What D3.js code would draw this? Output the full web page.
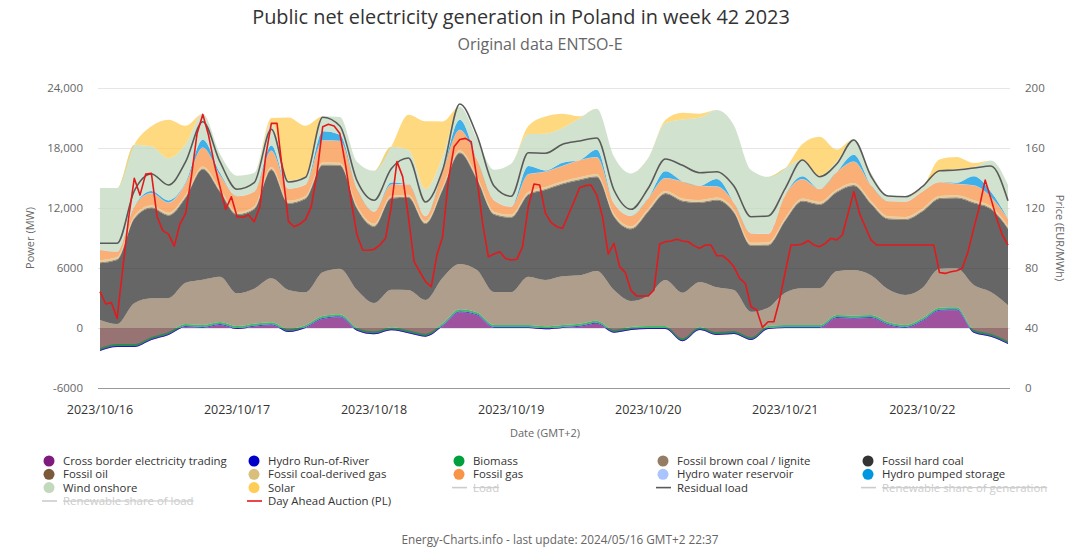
<!DOCTYPE html>
<html><head><meta charset="utf-8">
<script src="https://cdn.jsdelivr.net/npm/d3@7"></script>
<style>body{margin:0;background:#fff;} text{font-family:"Open Sans",sans-serif;}</style>
</head><body><svg id="c" width="1080" height="548"></svg>
<script>
// ---- data (hour offsets from 2023/10/16 00:00 GMT+2) ----
const areaHours = d3.range(0, 160, 3);
const priceHours = d3.range(0, 160, 1);
const crossBorder = [-2300,-1900,-1900,-1200,-700,100,0,300,-100,130,270,-400,0,900,
 1070,-270,-630,-230,-530,-870,170,1570,1270,0,0,0,-130,
 0,130,430,-470,-200,-100,-100,-1330,-200,-700,-600,-1200,-100,
 0,0,0,1000,930,1000,300,0,670,1730,1770,-470,-870,-1600];
const hydroRoR = [100,100,100,100,100,100,100,100,100,100,100,100,100,100,
 100,100,100,100,100,100,100,100,100,100,100,100,100,
 100,100,100,100,100,100,100,100,100,100,100,100,100,
 100,100,100,100,100,100,100,100,100,100,100,100,100,100];
const biomass = [200,200,200,200,200,200,200,200,200,200,200,200,200,200,
 200,200,200,200,200,200,200,200,200,200,200,200,200,
 200,200,200,200,200,200,200,200,200,200,200,200,200,
 200,200,200,200,200,200,200,200,200,200,200,200,200,200];
const lignite = [2800,2000,4070,3870,3400,4130,4530,4530,3270,3500,4400,3900,3270,4370,
 4560,3770,2830,3760,4030,3370,4560,4530,4230,3300,3300,4830,4630,
 4870,4840,4970,3970,2600,3030,4600,4560,4500,4470,4100,2530,1830,
 3230,3670,3670,4370,4570,3970,3270,3000,3030,3900,3900,4470,4170,3570];
const hardCoal = [5670,6400,8430,9000,8230,8500,11030,8500,7830,7930,10830,8630,9330,10670,
 10300,8130,7630,9130,9230,7600,8770,11070,9070,7730,7430,8170,9000,
 9200,9500,9370,7330,7170,8400,8600,9130,7900,8670,7730,6600,6230,
 7200,8670,8330,7870,8400,7130,7000,7500,7630,6970,7000,8170,8270,7630];
const fossilOil = [100,100,100,100,100,100,100,100,100,100,100,100,100,100,
 100,100,100,100,100,100,100,100,100,100,100,100,100,
 100,100,100,100,100,100,100,100,100,100,100,100,100,
 100,100,100,100,100,100,100,100,100,100,100,100,100,100];
const coalGas = [200,200,200,200,200,200,200,200,200,200,200,200,200,200,
 200,200,200,200,200,200,200,200,200,200,200,200,200,
 200,200,200,200,200,200,200,200,200,200,200,200,200,
 200,200,200,200,200,200,200,200,200,200,200,200,200,200];
const fossilGas = [1030,530,930,1200,1000,1130,1870,1370,1570,1470,1630,1200,1130,2200,
 2170,1700,1200,1070,1030,470,1530,2030,1670,1130,800,1770,1530,
 1530,1700,1700,1030,1030,1030,1270,1670,1400,1100,700,930,830,
 2270,1930,1270,1730,2130,1570,1500,1530,1700,1370,1130,1470,930,700];
const hydroReservoir = [30,30,30,30,30,30,30,30,30,30,30,30,30,30,
 30,30,30,30,30,30,30,30,30,30,30,30,30,
 30,30,30,30,30,30,30,30,30,30,30,30,30,
 30,30,30,30,30,30,30,30,30,30,30,30,30,30];
const pumpedStorage = [0,0,0,200,200,100,770,200,0,0,500,0,0,900,
 600,0,0,200,0,0,0,1000,0,0,0,800,100,
 300,0,730,0,0,0,670,0,0,730,0,0,0,
 0,270,0,0,670,0,0,0,0,0,100,900,500,0];
const windOnshore = [6170,6330,6170,4470,4200,3800,2600,1900,2030,1830,2230,800,800,1500,
 1770,2670,4070,3570,3430,2700,1500,1330,2130,3030,4270,3200,3670,
 3470,4170,4100,4670,4230,4000,4830,6200,6800,6900,7700,6300,5700,
 2670,1670,1330,1070,1570,1230,530,400,330,1030,1370,930,3130,3400];
const solar = [0,0,0,2000,3870,1830,0,0,0,0,500,6300,5070,0,
 0,0,0,0,3500,6770,3500,0,0,0,0,800,1730,
 1430,200,0,0,0,0,300,670,400,0,0,0,0,
 0,1570,3900,1170,0,0,0,0,0,1230,1200,400,0,0];
const residualLoad = [8470,8470,13700,15400,14300,16630,20630,16630,13870,14530,19870,14600,15070,21070,
 20200,14730,12770,15930,17000,12600,15800,22400,19270,14200,13170,17530,17470,
 18370,18700,19000,13800,11870,13970,16900,16270,15530,15630,14200,11130,11200,
 13970,16800,15130,16400,18800,15200,13200,13130,14130,15730,15800,16000,16200,12730];
const dayAheadPrice = [64.2,56.0,56.9,46.4,80,113,139.8,128.6,142.6,143.1,
 114.2,104.9,102.6,94.6,109.3,116.4,140.9,169.7,182.4,168.6,
 149.7,134.2,119.1,127.5,114.2,113.8,115.3,110.9,120.9,154.2,
 176.4,176.4,143.1,110.9,107.5,109.3,112.4,120.9,143.1,174.2,
 175.8,174.6,169.7,148.6,124.2,102.0,92.0,91.8,92.4,95.3,
 99.8,120.9,150.9,140.9,114.2,84.2,77.5,70.9,67.5,88.6,
 100.9,138.6,160.9,165.7,166.4,164.2,139.8,109.8,87.5,89.3,
 90.9,86.4,85.3,85.8,94.2,120.9,136.0,135.3,116.4,110.2,
 107.5,106.4,115.3,124.2,133.7,134.9,135.3,128.6,114.2,89.3,
 96.4,80.9,76.9,64.9,61.3,61.3,61.3,65.3,96.0,97.5,
 98.0,99.1,98.0,97.5,94.9,93.1,95.3,95.3,88.2,88.2,
 85.3,80.9,73.1,69.8,54.2,52.0,40.4,44.2,44.2,58.7,
 77.5,95.3,95.3,96.0,98.2,95.3,94.2,96.4,99.8,98.7,
 102.0,116.4,130.9,116.4,107.5,98.7,95.3,95.3,95.3,95.3,
 95.3,95.3,95.3,95.3,95.3,95.3,95.3,77.0,76.4,77.5,
 78.2,79.8,90.9,106.4,120.9,138.6,126.4,113.1,102.0,95.3];
const powerTicks = [-6000, 0, 6000, 12000, 18000, 24000];
const priceTicks = [0, 40, 80, 120, 160, 200];

const seriesDefs = [
  {key:"cb", name:"Cross border electricity trading", color:"#7f1a7f", values:crossBorder},
  {key:"ror", name:"Hydro Run-of-River", color:"#0000c8", values:hydroRoR},
  {key:"bio", name:"Biomass", color:"#00a03c", values:biomass},
  {key:"lig", name:"Fossil brown coal / lignite", color:"#957d65", values:lignite},
  {key:"hard", name:"Fossil hard coal", color:"#333333", values:hardCoal},
  {key:"oil", name:"Fossil oil", color:"#7b5a3c", values:fossilOil},
  {key:"cgas", name:"Fossil coal-derived gas", color:"#d9bf7c", values:coalGas},
  {key:"gas", name:"Fossil gas", color:"#f89448", values:fossilGas},
  {key:"res", name:"Hydro water reservoir", color:"#a9c4ff", values:hydroReservoir},
  {key:"pump", name:"Hydro pumped storage", color:"#0096e0", values:pumpedStorage},
  {key:"wind", name:"Wind onshore", color:"#c2d9bd", values:windOnshore},
  {key:"solar", name:"Solar", color:"#ffcc55", values:solar}
];

const hourDate = h => new Date(2023, 9, 16, h);
const rows = areaHours.map((h, i) => {
  const r = {date: hourDate(h)};
  seriesDefs.forEach(s => r[s.key] = s.values[i]);
  return r;
});

const svg = d3.select("#c");
svg.append("rect").attr("width",1080).attr("height",548).attr("fill","#fff");

const x = d3.scaleTime().domain([hourDate(0), hourDate(159)]).range([100, 1008]);
const yL = d3.scaleLinear().domain([-6000, 24000]).range([388, 88]);
const yR = d3.scaleLinear().domain([0, 200]).range([388, 88]);

// gridlines
svg.append("g").selectAll("line").data(powerTicks.filter(v => v > -6000)).join("line")
  .attr("x1", 98).attr("x2", 1010).attr("y1", d => yL(d)+0.5).attr("y2", d => yL(d)+0.5)
  .attr("stroke", "#e6e6e6").attr("stroke-width", 1);

// stacked areas
const stack = d3.stack().keys(seriesDefs.map(s => s.key)).offset(d3.stackOffsetNone);
const stacked = stack(rows);
const area = d3.area().x(d => x(d.data.date)).y0(d => yL(d[0])).y1(d => yL(d[1]))
  .curve(d3.curveMonotoneX);
svg.append("g").selectAll("path").data(stacked).join("path")
  .attr("d", area)
  .attr("fill", (d, i) => seriesDefs[i].color)
  .attr("fill-opacity", 0.75);

// axis line at bottom
svg.append("line").attr("x1", 98).attr("x2", 1010).attr("y1", 388.5).attr("y2", 388.5)
  .attr("stroke", "#999").attr("stroke-width", 1);

// residual load
svg.append("path").datum(rows.map((r, i) => ({date: r.date, v: residualLoad[i]})))
  .attr("d", d3.line().x(d => x(d.date)).y(d => yL(d.v)).curve(d3.curveMonotoneX))
  .attr("fill", "none").attr("stroke", "#5a5a5a").attr("stroke-width", 1.6);

// price
svg.append("path").datum(priceHours.map((h, i) => ({date: hourDate(h), v: dayAheadPrice[i]})))
  .attr("d", d3.line().x(d => x(d.date)).y(d => yR(d.v)))
  .attr("fill", "none").attr("stroke", "#e4191c").attr("stroke-width", 1.6)
  .attr("stroke-linejoin", "round");

// axis labels
const fmtP = v => Math.abs(v) >= 10000 ? d3.format(",")(v) : String(v);
svg.append("g").selectAll("text").data(powerTicks).join("text")
  .attr("x", 83).attr("y", d => yL(d) + 4).attr("text-anchor", "end")
  .attr("font-size", 11.5).attr("fill", "#666").text(fmtP);
svg.append("g").selectAll("text").data(priceTicks).join("text")
  .attr("x", 1025).attr("y", d => yR(d) + 4).attr("text-anchor", "start")
  .attr("font-size", 11.5).attr("fill", "#666").text(d => d);

const days = d3.timeDay.range(hourDate(0), hourDate(160));
svg.append("g").selectAll("text").data(days).join("text")
  .attr("x", d => x(d)).attr("y", 414).attr("text-anchor", "middle")
  .attr("fill", "#333").attr("font-family", "'Liberation Sans Narrow','Open Sans',sans-serif")
  .attr("font-size", 12.5)
  .text(d3.timeFormat("%Y/%m/%d"));

svg.append("text").attr("x", 545).attr("y", 437).attr("text-anchor", "middle")
  .attr("font-size", 11).attr("fill", "#666").text("Date (GMT+2)");
svg.append("text").attr("transform", "translate(34,238) rotate(-90)").attr("text-anchor", "middle")
  .attr("font-size", 11).attr("fill", "#666").text("Power (MW)");
svg.append("text").attr("transform", "translate(1056,238) rotate(90)").attr("text-anchor", "middle")
  .attr("font-size", 11).attr("fill", "#666").text("Price (EUR/MWh)");

// titles
svg.append("text").attr("x", 521).attr("y", 24).attr("text-anchor", "middle")
  .attr("font-size", 19.9).attr("fill", "#333").text("Public net electricity generation in Poland in week 42 2023");
svg.append("text").attr("x", 540).attr("y", 50).attr("text-anchor", "middle")
  .attr("font-size", 16).attr("fill", "#666").text("Original data ENTSO-E");
svg.append("text").attr("x", 560).attr("y", 544).attr("text-anchor", "middle")
  .attr("font-size", 11.8).attr("fill", "#666").text("Energy-Charts.info - last update: 2024/05/16 GMT+2 22:37");

// legend
const allLegend = [
  ...seriesDefs.map(s => ({name: s.name, color: s.color, type: "dot"})),
  {name: "Load", color: "#ccc", type: "line", hidden: true},
  {name: "Residual load", color: "#5a5a5a", type: "line"},
  {name: "Renewable share of generation", color: "#ccc", type: "line", hidden: true},
  {name: "Renewable share of load", color: "#ccc", type: "line", hidden: true},
  {name: "Day Ahead Auction (PL)", color: "#e4191c", type: "line"}
];
const colX = [49, 254, 459, 663, 868];
const rowY = [461, 474.3, 487.6, 501];
const lg = svg.append("g");
allLegend.forEach((it, i) => {
  const cx = colX[i % 5], cy = rowY[Math.floor(i / 5)];
  const g = lg.append("g");
  if (it.type === "dot") {
    g.append("circle").attr("cx", cx).attr("cy", cy).attr("r", 5.5).attr("fill", it.color);
  } else {
    g.append("line").attr("x1", cx - 7).attr("x2", cx + 8).attr("y1", cy).attr("y2", cy)
      .attr("stroke", it.color).attr("stroke-width", 1.6);
  }
  g.append("text").attr("x", cx + 14).attr("y", cy + 4).attr("font-size", 11.4)
    .attr("fill", it.hidden ? "#cccccc" : "#333")
    .attr("text-decoration", it.hidden ? "line-through" : null)
    .text(it.name);
});
</script></body></html>
